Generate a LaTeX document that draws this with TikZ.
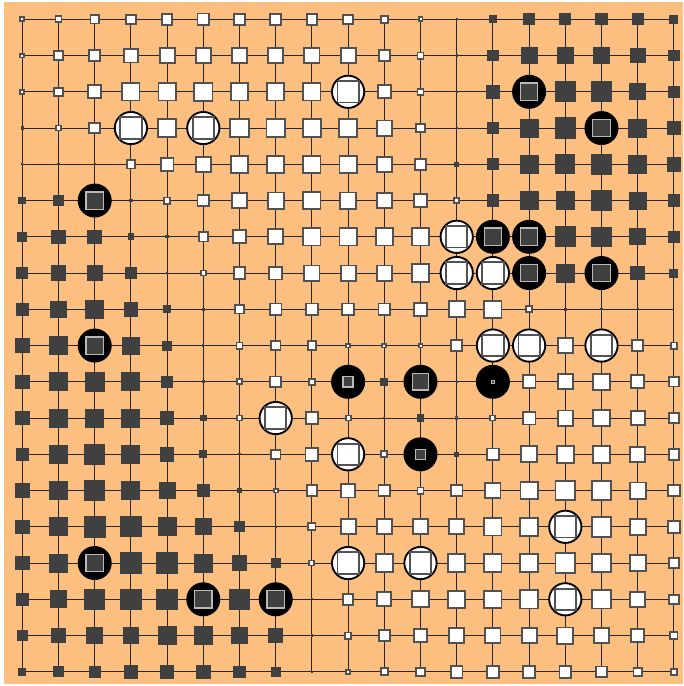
\documentclass[tikz,border=0pt]{standalone}
\usepackage{tikz}

\definecolor{board}{RGB}{253,191,128}
\definecolor{inkdark}{RGB}{64,64,64}
\definecolor{rimgrey}{RGB}{82,82,82}
\definecolor{rimlight}{RGB}{185,185,185}

\begin{document}
\begin{tikzpicture}[x=0.75pt, y=-0.75pt,
	every node/.style={inner sep=0pt, outer sep=0pt},
	gridline/.style={black!85, line width=0.8pt},
	wsq/.style={rectangle, fill=white, draw=rimgrey, line width=1.4pt},
	bsq/.style={rectangle, fill=inkdark},
	wstone/.style={circle, fill=white, draw=black, line width=1.4pt, minimum size=24.2pt},
	bstone/.style={circle, fill=black, minimum size=25.5pt},
	bmark/.style={rectangle, fill=inkdark, draw=rimlight, line width=1pt}]
	% board
	\fill[white] (0,0) rectangle (683,686);
	\fill[board] (4,2) rectangle (683,684);
	\foreach \i in {0,...,18} {
		\draw[gridline] ({22.3+36.2*\i},19.3) -- ({22.3+36.2*\i},671.8);
		\draw[gridline] (22.3,{19.3+36.25*\i}) -- (674,{19.3+36.25*\i});
	}
	% stones
	\foreach \c/\r in {9/2, 3/3, 5/3, 12/6, 12/7, 13/7, 13/9, 14/9, 16/9, 7/11, 9/12, 15/14, 9/15, 11/15, 15/16} {
		\node[wstone] (st-\c-\r) at ({22.3+36.2*\c},{19.3+36.25*\r}) {};
		\node[wsq, minimum size=16pt] (mk-\c-\r) at (st-\c-\r) {};
	}
	\foreach \c/\r/\s in {14/2/18, 16/3/18, 2/5/18, 13/6/18, 14/6/18, 14/7/18, 16/7/18, 2/9/18, 9/10/11, 11/10/17, 13/10/4, 11/12/11, 2/15/18, 5/16/18, 7/16/18} {
		\node[bstone] (st-\c-\r) at ({22.3+36.2*\c},{19.3+36.25*\r}) {};
		\node[bmark, minimum size={\s*0.78pt-1pt}] (mk-\c-\r) at (st-\c-\r) {};
	}
	% influence
	\foreach \vals [count=\r from 0] in {
		{5,7,9,10,11,12,11,11,11,10,8,5,-2,-7,-11,-11,-11,-11,-8},
		{5,9,11,14,15,15,15,15,15,15,11,7,-2,-10,-15,-15,-15,-14,-10},
		{5,9,13,17,17,18,17,17,17,0,13,7,-2,-13,0,-19,-19,-15,-11},
		{-3,6,11,0,18,0,18,18,18,18,15,9,-2,-11,-17,-19,0,-17,-13},
		{-2,-2,-2,9,13,15,17,17,17,17,15,11,-4,-11,-17,-18,-19,-17,-13},
		{-7,-10,0,-3,7,12,15,16,17,16,15,13,6,-11,-17,-17,-18,-16,-11},
		{-9,-13,-13,-6,-3,10,13,15,17,17,17,17,0,0,0,-19,-18,-15,-11},
		{-11,-14,-14,-10,-2,6,12,13,15,15,15,17,0,0,0,-17,0,-13,-8},
		{-12,-15,-17,-13,-7,-3,9,12,12,12,12,13,16,17,7,-3,-2,-2,0},
		{-13,-17,0,-16,-9,-2,7,10,9,5,5,5,11,0,0,15,0,11,7},
		{-13,-17,-18,-17,-11,-3,6,11,7,0,-7,0,-2,0,13,15,16,13,10},
		{-13,-17,-17,-17,-12,-6,6,0,12,6,-2,-7,3,6,13,15,16,14,11},
		{-12,-17,-19,-17,-13,-7,-2,10,13,0,7,0,-4,12,16,17,17,15,11},
		{-13,-17,-19,-17,-15,-12,-5,5,11,14,12,7,12,15,17,19,18,16,12},
		{-13,-17,-20,-19,-17,-15,-10,-2,8,15,15,15,15,17,18,0,19,16,12},
		{-13,-17,0,-19,-19,-17,-14,-9,6,0,17,0,17,17,18,19,18,16,11},
		{-12,-16,-19,-19,-19,0,-19,0,-2,11,14,16,17,17,18,0,18,15,10},
		{-10,-13,-15,-15,-17,-17,-15,-13,-2,7,11,13,15,15,15,16,15,13,8},
		{-7,-10,-11,-13,-13,-13,-11,-9,-2,5,8,9,12,12,12,12,11,9,7}} {
		\foreach \v [count=\c from 0] in \vals {
			\ifnum\v>0
				\node[wsq, minimum size={\v*0.84pt-1.3pt}] (sq-\c-\r) at ({22.3+36.2*\c},{19.3+36.25*\r}) {};
			\fi
			\ifnum\v<0
				\node[bsq, minimum size={abs(\v)*0.84pt}] (sq-\c-\r) at ({22.3+36.2*\c},{19.3+36.25*\r}) {};
			\fi
		}
	}
\end{tikzpicture}
\end{document}
